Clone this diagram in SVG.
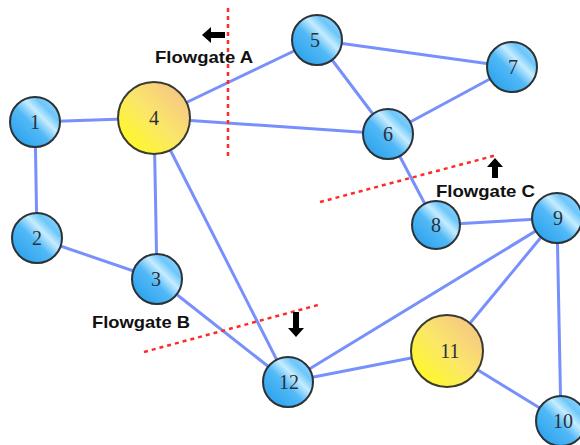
<svg xmlns="http://www.w3.org/2000/svg" width="580" height="445" viewBox="0 0 580 445">
<defs>
<linearGradient id="blue" x1="0" y1="1" x2="1" y2="0">
<stop offset="0" stop-color="#1f9ae8"/>
<stop offset="0.45" stop-color="#52b9f7"/>
<stop offset="0.62" stop-color="#c6ecff"/>
<stop offset="0.75" stop-color="#6cc6fa"/>
<stop offset="1" stop-color="#a6dcff"/>
</linearGradient>
<linearGradient id="yellow" x1="0" y1="1" x2="1" y2="0">
<stop offset="0" stop-color="#ffff10"/>
<stop offset="0.5" stop-color="#fbe66a"/>
<stop offset="1" stop-color="#f3bd8c"/>
</linearGradient>
</defs>
<style>
.e{stroke:#7890fb;stroke-width:3;fill:none;stroke-linecap:round}
.b{fill:url(#blue);stroke:#2c3236;stroke-width:2}
.y{fill:url(#yellow);stroke:#3a3a30;stroke-width:2}
.n{font-family:"Liberation Serif",serif;font-size:20px;fill:#2a3038;text-anchor:middle}
.cut{stroke:#ff2a2a;stroke-width:2.5;stroke-dasharray:4 4;fill:none}
.lab{font-family:"Liberation Sans",Arial,sans-serif;font-weight:bold;font-size:17px;fill:#111}
.ar{fill:#000}
</style>
<rect width="580" height="445" fill="#fff"/>
<g id="connectors">
<line class="e" x1="35" y1="122" x2="154" y2="118"/>
<line class="e" x1="35" y1="122" x2="37" y2="238"/>
<line class="e" x1="37" y1="238" x2="157" y2="279"/>
<line class="e" x1="154" y1="118" x2="157" y2="279"/>
<line class="e" x1="157" y1="279" x2="288" y2="382"/>
<line class="e" x1="154" y1="118" x2="288" y2="382"/>
<line class="e" x1="154" y1="118" x2="317" y2="40"/>
<line class="e" x1="154" y1="118" x2="388" y2="134"/>
<line class="e" x1="317" y1="40" x2="388" y2="134"/>
<line class="e" x1="317" y1="40" x2="512" y2="67"/>
<line class="e" x1="388" y1="134" x2="512" y2="67"/>
<line class="e" x1="388" y1="134" x2="436" y2="225"/>
<line class="e" x1="436" y1="225" x2="557" y2="218"/>
<line class="e" x1="557" y1="218" x2="288" y2="382"/>
<line class="e" x1="557" y1="218" x2="447" y2="351"/>
<line class="e" x1="557" y1="218" x2="561" y2="421"/>
<line class="e" x1="447" y1="351" x2="288" y2="382"/>
<line class="e" x1="447" y1="351" x2="561" y2="421"/>
</g>
<g id="flowgate-a">
<line class="cut" x1="228" y1="8" x2="228" y2="160"/>
<polygon class="ar" points="202,35 211,27 211,32 225,32 225,38 211,38 211,43"/>
<text class="lab" x="155" y="63" textLength="98" lengthAdjust="spacingAndGlyphs">Flowgate A</text>
</g>
<g id="flowgate-c">
<line class="cut" x1="320" y1="202" x2="497" y2="155"/>
<polygon class="ar" points="495,158 503,167 498,167 498,178 492,178 492,167 487,167"/>
<text class="lab" x="436" y="197" textLength="99" lengthAdjust="spacingAndGlyphs">Flowgate C</text>
</g>
<g id="flowgate-b">
<line class="cut" x1="144" y1="352" x2="318" y2="305"/>
<polygon class="ar" points="296,337 304,328 299,328 299,312 293,312 293,328 288,328"/>
<text class="lab" x="92" y="328" textLength="98" lengthAdjust="spacingAndGlyphs">Flowgate B</text>
</g>
<g id="node1"><circle class="b" cx="35" cy="122" r="25"/><text class="n" x="35" y="129">1</text></g>
<g id="node2"><circle class="b" cx="37" cy="238" r="25"/><text class="n" x="37" y="245">2</text></g>
<g id="node3"><circle class="b" cx="157" cy="279" r="25"/><text class="n" x="156" y="286">3</text></g>
<g id="node4"><circle class="y" cx="154" cy="118" r="36"/><text class="n" x="154" y="125">4</text></g>
<g id="node5"><circle class="b" cx="317" cy="40" r="25"/><text class="n" x="315" y="47">5</text></g>
<g id="node6"><circle class="b" cx="388" cy="134" r="25"/><text class="n" x="388" y="141">6</text></g>
<g id="node7"><circle class="b" cx="512" cy="67" r="25"/><text class="n" x="513" y="74">7</text></g>
<g id="node8"><circle class="b" cx="436" cy="225" r="24"/><text class="n" x="436" y="232">8</text></g>
<g id="node9"><circle class="b" cx="557" cy="218" r="25"/><text class="n" x="558" y="225">9</text></g>
<g id="node10"><circle class="b" cx="561" cy="421" r="25"/><text class="n" x="563" y="428">10</text></g>
<g id="node11"><circle class="y" cx="447" cy="351" r="36"/><text class="n" x="450" y="358">11</text></g>
<g id="node12"><circle class="b" cx="288" cy="382" r="25"/><text class="n" x="289" y="389">12</text></g>
</svg>
